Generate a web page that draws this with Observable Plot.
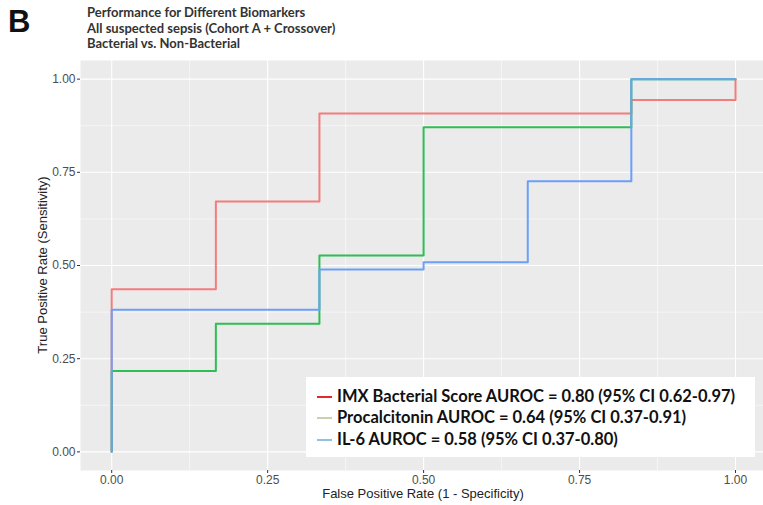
<!DOCTYPE html>
<html>
<head>
<meta charset="utf-8">
<script src="https://cdn.jsdelivr.net/npm/d3@7"></script>
<script src="https://cdn.jsdelivr.net/npm/@observablehq/plot@0.6"></script>
<style>
  html, body { margin: 0; padding: 0; background: #fff; }
  #wrap { position: relative; width: 763px; height: 505px; overflow: hidden; }
  #chart { position: absolute; left: 0; top: 0; }
  .ovl { position: absolute; white-space: nowrap; }
  #panelB { left: 8px; top: 6px; font: bold 31px "Liberation Sans", Arial, sans-serif; line-height: 31px; color: #111; }
  #title { left: 87px; top: 5px; font: bold 13px Lato, "Liberation Sans", sans-serif; color: #333; line-height: 15.7px; }
  #xtitle { left: 0; width: 846px; top: 487px; text-align: center; font: 13px "Liberation Sans", Arial, sans-serif; line-height: 13px; color: #222; }
  #ytitle { left: 42px; top: 265px; transform: translate(-50%, -50%) rotate(-90deg); font: 13px "Liberation Sans", Arial, sans-serif; line-height: 13px; color: #222; }
  #legend { left: 306px; top: 377px; width: 449px; height: 80px; background: #fff; font: bold 16.5px Lato, "Liberation Sans", sans-serif; color: #111; }
  .row { position: absolute; left: 11px; height: 20px; line-height: 20px; }
  .key { display: inline-block; width: 15px; height: 2px; vertical-align: middle; margin-right: 5px; position: relative; top: -1px; }
</style>
</head>
<body>
<div id="wrap">
  <div id="chart"></div>
  <div class="ovl" id="panelB">B</div>
  <div class="ovl" id="title">Performance for Different Biomarkers<br>All suspected sepsis (Cohort A + Crossover)<br>Bacterial vs. Non-Bacterial</div>
  <div class="ovl" id="xtitle">False Positive Rate (1 - Specificity)</div>
  <div class="ovl" id="ytitle">True Positive Rate (Sensitivity)</div>
  <div class="ovl" id="legend"></div>
</div>
<script>
// ROC corner points (false positive rate, true positive rate)
const imxFpr = [0, 0, 0.167, 0.333, 0.833, 1];
const imxTpr = [0, 0.436, 0.672, 0.908, 0.944, 1];
const pctFpr = [0, 0, 0.167, 0.333, 0.5, 0.833, 1];
const pctTpr = [0, 0.217, 0.344, 0.527, 0.871, 1, 1];
const il6Fpr = [0, 0, 0.333, 0.5, 0.667, 0.833, 1];
const il6Tpr = [0, 0.381, 0.489, 0.509, 0.726, 1, 1];

const seriesNames = ["IMX Bacterial Score", "Procalcitonin", "IL-6"];
const seriesColors = ["#F37C7C", "#2EBE55", "#6C9FF8"];
const legendLabels = [
  "IMX Bacterial Score AUROC = 0.80 (95% CI 0.62-0.97)",
  "Procalcitonin AUROC = 0.64 (95% CI 0.37-0.91)",
  "IL-6 AUROC = 0.58 (95% CI 0.37-0.80)"
];
const legendKeyColors = ["#E8252C", "#C9D2AE", "#8EC2E0"];

const majorTicks = [0, 0.25, 0.5, 0.75, 1];
const minorTicks = [0.125, 0.375, 0.625, 0.875];

const zip = (xs, ys) => xs.map((x, i) => ({x, y: ys[i]}));
const imx = zip(imxFpr, imxTpr);
const pct = zip(pctFpr, pctTpr);
const il6 = zip(il6Fpr, il6Tpr);

const W = 763, H = 505;
const fmt = d3.format(".2f");

const chart = Plot.plot({
  width: W,
  height: H,
  marginLeft: 80,
  marginRight: 0,
  marginTop: 60,
  marginBottom: 35,
  style: { fontFamily: "'Liberation Sans', Arial, sans-serif", fontSize: "12px", background: "transparent", overflow: "visible" },
  x: { domain: [-0.05, (W - 111) / 624] },
  y: { domain: [-0.05, 1.05] },
  marks: [
    Plot.frame({ fill: "#EBEBEB", stroke: null }),
    Plot.gridX(minorTicks, { stroke: "#fff", strokeOpacity: 1, strokeWidth: 0.55 }),
    Plot.gridY(minorTicks, { stroke: "#fff", strokeOpacity: 1, strokeWidth: 0.55 }),
    Plot.gridX(majorTicks, { stroke: "#fff", strokeOpacity: 1, strokeWidth: 1.1 }),
    Plot.gridY(majorTicks, { stroke: "#fff", strokeOpacity: 1, strokeWidth: 1.1 }),
    Plot.line(imx, { x: "x", y: "y", curve: "step-after", stroke: seriesColors[0], strokeWidth: 2 }),
    Plot.line(pct, { x: "x", y: "y", curve: "step-after", stroke: seriesColors[1], strokeWidth: 2 }),
    Plot.line(il6, { x: "x", y: "y", curve: "step-after", stroke: seriesColors[2], strokeWidth: 2 }),
    Plot.axisX(majorTicks, { anchor: "bottom", tickFormat: fmt, tickSize: 3, tickPadding: 2, stroke: "#333", fill: "#4D4D4D", label: null, fontSize: 12 }),
    Plot.axisY(majorTicks, { anchor: "left", tickFormat: fmt, tickSize: 3, tickPadding: 2, stroke: "#333", fill: "#4D4D4D", label: null, fontSize: 12 })
  ]
});
document.getElementById("chart").appendChild(chart);

const legend = document.getElementById("legend");
const rowTops = [9, 30, 52];
legendLabels.forEach((t, i) => {
  const r = document.createElement("div");
  r.className = "row";
  r.style.top = rowTops[i] + "px";
  const k = document.createElement("span");
  k.className = "key";
  k.style.background = legendKeyColors[i];
  r.appendChild(k);
  r.appendChild(document.createTextNode(t));
  legend.appendChild(r);
});
</script>
</body>
</html>
